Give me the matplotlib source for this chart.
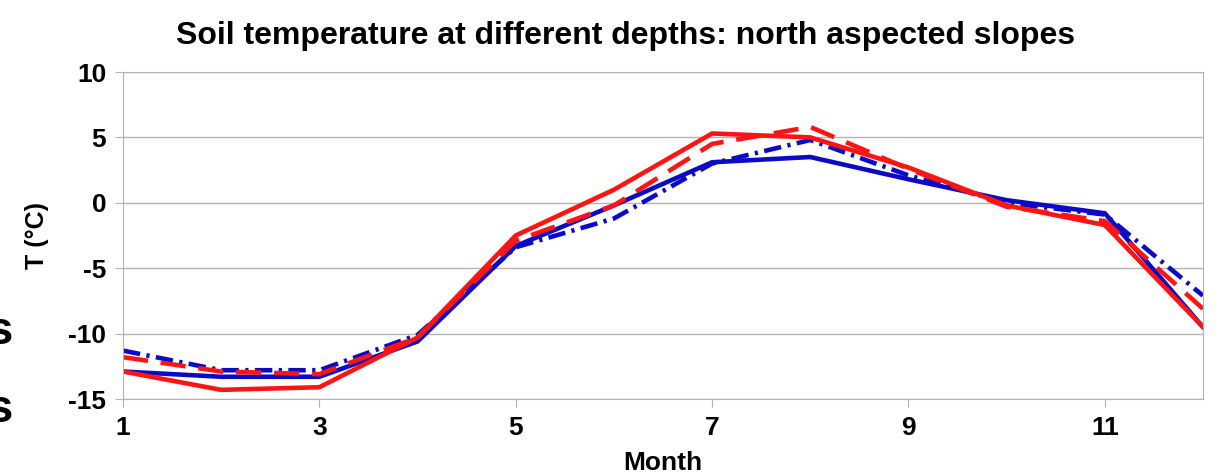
import matplotlib
matplotlib.use("Agg")
import matplotlib.pyplot as plt

plt.rcParams['font.family'] = ['Liberation Sans', 'DejaVu Sans']
plt.rcParams['font.weight'] = 'bold'
plt.rcParams['axes.unicode_minus'] = False

# monthly soil temperature, north aspected slopes
months = [1, 2, 3, 4, 5, 6, 7, 8, 9, 10, 11, 12]
blue_solid = [-12.9, -13.3, -13.3, -10.6, -3.3, -0.2, 3.1, 3.5, 1.8, 0.2, -0.8, -9.5]
blue_dashdot = [-11.3, -12.8, -12.8, -10.1, -3.4, -1.2, 3.0, 4.8, 2.1, 0.0, -0.9, -7.1]
red_solid = [-12.9, -14.3, -14.1, -10.3, -2.5, 1.0, 5.3, 5.0, 2.7, -0.2, -1.7, -9.5]
red_dashed = [-11.8, -12.9, -13.1, -10.3, -2.9, -0.2, 4.5, 5.8, 2.6, -0.3, -1.4, -8.1]

xticks = [1, 3, 5, 7, 9, 11]
yticks = [-15, -10, -5, 0, 5, 10]

fig = plt.figure(figsize=(12.24, 4.73), dpi=100)
ax = fig.add_axes([123 / 1224, 1 - 399 / 473, 1080 / 1224, 327 / 473])

ax.plot(months, blue_solid, color='#0a0ac8', lw=3.3)
ax.plot(months, blue_dashdot, color='#0a0ac8', lw=3.3, dashes=(3.8, 1.4, 0.7, 1.4))
ax.plot(months, red_solid, color='#ff1414', lw=3.3)
ax.plot(months, red_dashed, color='#ff1414', lw=3.3, dashes=(5.5, 2.8))

ax.set_xlim(1, 12)
ax.set_ylim(-15, 10)
ax.set_xticks(xticks)
ax.set_yticks(yticks)
ax.grid(axis='y', color='#b3b3b3', lw=1)
ax.set_axisbelow(True)
for s in ax.spines.values():
    s.set_color('#b3b3b3')
ax.tick_params(colors='#b3b3b3', labelcolor='black', labelsize=19, length=6, pad=6)

ax.set_xlabel('Month', fontsize=19, fontweight='bold', labelpad=8)
ax.set_ylabel('T (°C)', fontsize=18, fontweight='bold', labelpad=14)
ax.set_title('Soil temperature at different depths: north aspected slopes',
             fontsize=23, fontweight='bold', pad=20, x=0.465)

# clipped text fragments at the left edge
fig.text(13 / 1224, 1 - 332 / 473, 's', fontsize=34, fontweight='bold', ha='right', va='center')
fig.text(13 / 1224, 1 - 410 / 473, 's', fontsize=34, fontweight='bold', ha='right', va='center')

fig.savefig('out.png', dpi=100)
